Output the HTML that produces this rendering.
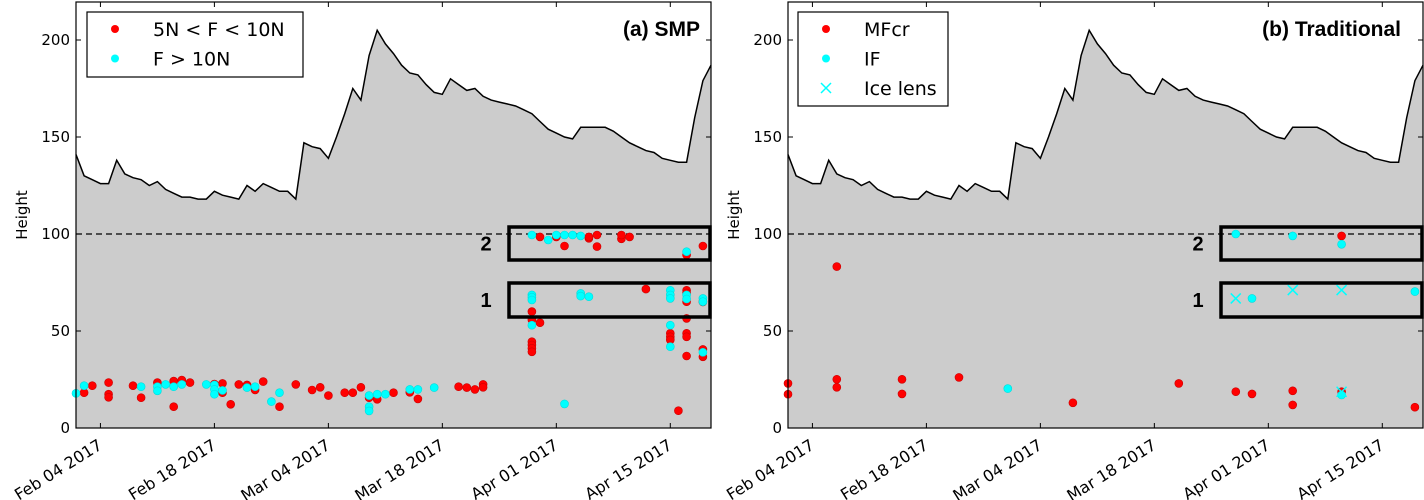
<!DOCTYPE html>
<html><head><meta charset="utf-8">
<style>
html,body{margin:0;padding:0;background:#fff;}
svg{display:block;font-family:"DejaVu Sans","Liberation Sans",sans-serif;}
</style></head>
<body>
<svg id="chart" width="1424" height="500" viewBox="0 0 1424 500" xmlns="http://www.w3.org/2000/svg"></svg>
<script>
// ---- data ----
const tickDays = [3, 17, 31, 45, 59, 73];
const tickLabels = ["Feb 04 2017","Feb 18 2017","Mar 04 2017","Mar 18 2017","Apr 01 2017","Apr 15 2017"];
const yTicks = [0, 50, 100, 150, 200];
const heights = [141,130,128,126,126,138,131,129,128,125,127,123,121,119,119,118,118,122,120,119,118,125,122,126,124,122,122,118,147,145,144,139,150,162,175,169,192,205,198,193,187,183,182,177,173,172,180,177,174,175,171,169,168,167,166,164,162,158,154,152,150,149,155,155,155,155,153,150,147,145,143,142,139,138,137,137,160,179,187];
const smpRedDays = [1,2,4,4,4,7,8,10,12,12,13,14,17,18,18,19,20,21,22,23,25,27,29,30,31,33,34,35,36,37,39,41,42,47,48,49,50,50,
  56,56,56,56,56,56,57,57,59,60,63,64,64,63,67,67,68,70,73,73,73,75,75,75,75,75,75,75,75,77,77,77,77,74];
const smpRedVals = [18.2,21.8,23.4,17.4,15.8,21.8,15.6,23.4,24.2,11,24.7,23.4,22.7,23,18.2,12.2,22.5,22.2,19.6,23.9,11,22.5,19.6,21,16.7,18.2,18.2,21,15.6,14.8,18.2,18.4,15,21.3,20.8,19.9,22.5,21,
  60,55.7,44.5,42.8,41.1,39.3,54.3,98.5,98.5,93.8,97.8,99.5,93.5,98.5,97.5,99.5,98.5,71.6,48.8,47,45.4,89.2,71,69.6,65.1,56.5,48.8,47,37.1,93.8,40.5,36.7,65,8.9];
const smpCyanDays = [0,1,8,10,10,11,12,13,16,17,17,17,18,21,22,24,25,36,36,36,37,38,41,42,44,
  56,56,56,56,56,58,59,60,61,62,60,62,62,63,73,73,73,73,73,75,75,75,77,77,77];
const smpCyanVals = [17.9,21.8,21.3,21.3,19.2,22.5,21.3,22.5,22.5,22.2,19.9,17.4,19.4,20.8,21.3,13.6,18.2,16.7,11,8.8,17.4,17.4,19.9,19.9,20.8,
  68.6,67.4,66,53,99.5,96.9,99.5,99.5,99.5,99,12.4,69.4,68,67.7,71,68.6,66.8,53,41.9,90.9,68.6,66.5,66.8,65.1,39];
const tradRedDays = [0,0,6,6,6,14,14,21,35,48,55,57,62,62,68,68,77];
const tradRedVals = [23,17.4,83.2,25.1,21,25.1,17.6,26.1,13,23,18.7,17.6,19.2,11.9,99,18.7,10.7];
const tradCyanDays = [27,55,57,62,68,68,77];
const tradCyanVals = [20.3,100,66.8,99,94.7,17,70.3];
const tradIceDays = [55,62,68,68];
const tradIceVals = [66.8,71.1,71.1,18.7];

// ---- geometry ----
const X0 = 76, X1 = 711, Y0 = 428, PX_PER_UNIT = 1.94, DAYMAX = 78, PTOP = 2;
const NS = "http://www.w3.org/2000/svg";
const svg = document.getElementById('chart');
function el(tag, attrs, parent){ const e = document.createElementNS(NS, tag); for (const k in attrs) e.setAttribute(k, attrs[k]); (parent||svg).appendChild(e); return e; }
function xs(d, off){ return off + X0 + d*(X1-X0)/DAYMAX; }
function ys(v){ return Y0 - v*PX_PER_UNIT; }

function panel(off, name){
  const g = el('g', {});
  
  
  const bg = el('rect', {x: off+X0, y: PTOP, width: X1-X0, height: Y0-PTOP, fill: '#fff'}, g);
  
  
  let pts = heights.map((h,i)=> xs(i,off).toFixed(1)+','+ys(h).toFixed(1));
  const area = el('polygon', {points: xs(0,off)+','+Y0+' '+pts.join(' ')+' '+xs(heights.length-1,off)+','+Y0, fill:'#cccccc', stroke:'none'}, g);
  
  
  const line = el('polyline', {points: pts.join(' '), fill:'none', stroke:'#000', 'stroke-width':1.5}, g);
  
  
  const dl = el('line', {x1: off+X0, x2: off+X1, y1: ys(100), y2: ys(100), stroke:'#000', 'stroke-width':1.2, 'stroke-dasharray':'6,4'}, g);
  
  
  return g;
}
function dots(g, days, vals, color, name){
  days.forEach((d,i)=>{
    const c = el('circle', {cx: xs(d, g._off).toFixed(1), cy: ys(vals[i]).toFixed(1), r: 4, fill: color, stroke: color==='#ff0000'?'#c00':'#00dddd', 'stroke-width':0.6}, g);
    
    
  });
}
function crosses(g, days, vals, name){
  days.forEach((d,i)=>{
    const x = xs(d, g._off), y = ys(vals[i]);
    const p = el('path', {d:`M${x-5},${y-5}L${x+5},${y+5}M${x-5},${y+5}L${x+5},${y-5}`, stroke:'#00ffff', 'stroke-width':1.5, fill:'none'}, g);
    
    
  });
}
function axes(g, off){
  const f = el('rect', {x: off+X0, y: PTOP, width: X1-X0, height: Y0-PTOP, fill:'none', stroke:'#000', 'stroke-width':1.2}, g);
  
  
  yTicks.forEach(v=>{
    const y = ys(v);
    el('line', {x1: off+X0, x2: off+X0+5, y1:y, y2:y, stroke:'#000'}, g);
    el('line', {x1: off+X1, x2: off+X1-5, y1:y, y2:y, stroke:'#000'}, g);
    const t = el('text', {x: off+X0-6, y: y+5, 'text-anchor':'end', 'font-size':15, fill:'#000'}, g);
    t.textContent = v;
    
    
  });
  tickDays.forEach((d,i)=>{
    const x = xs(d, off);
    el('line', {x1:x, x2:x, y1:Y0, y2:Y0-5, stroke:'#000'}, g);
    el('line', {x1:x, x2:x, y1:PTOP, y2:PTOP+5, stroke:'#000'}, g);
    const tx = x+3, ty = Y0+20;
    const t = el('text', {x: tx, y: ty, 'text-anchor':'end', 'font-size':16, fill:'#000', transform:`rotate(-32 ${tx} ${ty})`}, g);
    t.textContent = tickLabels[i];
    
    
  });
  const yl = el('text', {x: off+27, y: 215, 'text-anchor':'middle', 'font-size':15, transform:`rotate(-90 ${off+27} 215)`}, g);
  yl.textContent = 'Height';
  
  
}
function boxes(g, off){
  [[227,260,'2'],[283,317,'1']].forEach(b=>{
    const r = el('rect', {x: off+509, y: b[0], width: 201, height: b[1]-b[0], fill:'none', stroke:'#000', 'stroke-width':3.5}, g);
    
    
    const t = el('text', {x: off+486, y: (b[0]+b[1])/2+7, 'text-anchor':'middle', 'font-size':20, 'font-weight':'bold', 'font-family':'Liberation Sans, sans-serif'}, g);
    t.textContent = b[2];
    
    
  });
}

const gL = panel(0, 'panel-a-smp'); gL._off = 0;
dots(gL, smpRedDays, smpRedVals, '#ff0000', 'point-5n-10n');
dots(gL, smpCyanDays, smpCyanVals, '#00ffff', 'point-f-gt-10n');
boxes(gL, 0);
axes(gL, 0);
const gR = panel(712, 'panel-b-traditional'); gR._off = 712;
dots(gR, tradRedDays, tradRedVals, '#ff0000', 'point-mfcr');
dots(gR, tradCyanDays, tradCyanVals, '#00ffff', 'point-if');
crosses(gR, tradIceDays, tradIceVals, 'point-ice-lens');
boxes(gR, 712);
axes(gR, 712);

function legend(x, y, w, h, items, name){
  const g = el('g', {});
  
  
  el('rect', {x, y, width:w, height:h, fill:'#fff', stroke:'#000', 'stroke-width':1.2}, g);
  items.forEach((it,i)=>{
    const cy = y + 17 + i*29.5;
    if (it[1]==='x') {
      el('path', {d:`M${x+23},${cy-5}L${x+33},${cy+5}M${x+23},${cy+5}L${x+33},${cy-5}`, stroke:'#00ffff','stroke-width':1.5}, g);
    } else {
      el('circle', {cx:x+28, cy, r:4, fill:it[1]}, g);
    }
    const t = el('text', {x: x+66, y: cy+7, 'font-size':19}, g);
    t.textContent = it[0];
    
    
  });
}
legend(87, 12, 216, 65, [['5N < F < 10N','#ff0000'],['F > 10N','#00ffff']], 'legend-smp');
legend(798, 12, 150, 94, [['MFcr','#ff0000'],['IF','#00ffff'],['Ice lens','x']], 'legend-traditional');
const ta = el('text', {x:700, y:36, 'text-anchor':'end', 'font-size':21, 'font-weight':'bold', 'font-family':'Liberation Sans, sans-serif'});
ta.textContent = '(a) SMP';


const tb = el('text', {x:1401, y:36, 'text-anchor':'end', 'font-size':21, 'font-weight':'bold', 'font-family':'Liberation Sans, sans-serif'});
tb.textContent = '(b) Traditional';


</script>
</body></html>
